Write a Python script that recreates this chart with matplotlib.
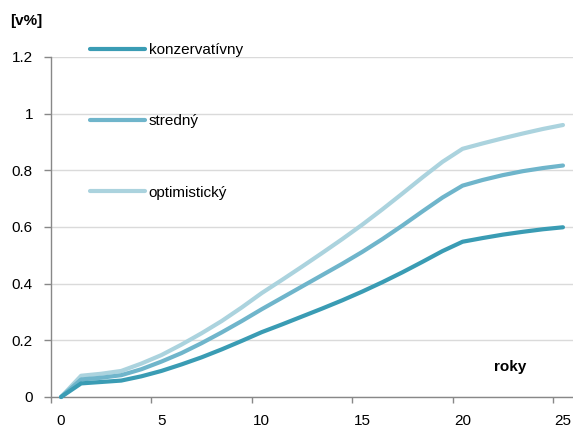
import matplotlib
matplotlib.use("Agg")
import matplotlib.pyplot as plt
import numpy as np

plt.rcParams['font.family'] = ['Liberation Sans', 'DejaVu Sans']

years = list(range(0, 26))
konzervativny = [0, 0.048, 0.053, 0.058, 0.073, 0.092, 0.115, 0.140, 0.168, 0.198,
                 0.229, 0.256, 0.284, 0.312, 0.341, 0.372, 0.405, 0.440, 0.477, 0.515,
                 0.548, 0.561, 0.573, 0.583, 0.592, 0.599]
stredny = [0, 0.062, 0.068, 0.077, 0.098, 0.125, 0.155, 0.190, 0.228, 0.268,
           0.310, 0.350, 0.390, 0.430, 0.470, 0.512, 0.557, 0.605, 0.655, 0.704,
           0.746, 0.766, 0.783, 0.797, 0.808, 0.817]
optimisticky = [0, 0.075, 0.082, 0.092, 0.118, 0.148, 0.185, 0.225, 0.268, 0.316,
                0.367, 0.413, 0.460, 0.508, 0.557, 0.608, 0.662, 0.718, 0.775, 0.830,
                0.876, 0.895, 0.913, 0.930, 0.946, 0.960]
labels = ['konzervatívny', 'stredný', 'optimistický']
colors = ['#3a9cb4', '#6fb5cb', '#abd3de']

fig = plt.figure(figsize=(5.73, 4.28), dpi=100)
ax = fig.add_axes([51/573, 1 - 397/428, 1 - 51/573, (397 - 57)/428])

series = [konzervativny, stredny, optimisticky]
handles = []
for vals, lab, col in zip(series[::-1], labels[::-1], colors[::-1]):
    h, = ax.plot(years, vals, color=col, lw=3.0, solid_capstyle='round',
                 solid_joinstyle='round', label=lab, clip_on=False, zorder=3)
    handles.append(h)
handles = handles[::-1]

ax.set_xlim(-0.5, 25.5)
ax.set_ylim(0, 1.2)
yt = [0, 0.2, 0.4, 0.6, 0.8, 1.0, 1.2]
ax.set_yticks(yt)
ax.set_yticklabels(['0', '0.2', '0.4', '0.6', '0.8', '1', '1.2'])
ax.set_xticks([0, 5, 10, 15, 20, 25])
ax.set_xticks([-0.5, 4.5, 9.5, 14.5, 19.5, 24.5], minor=True)
ax.tick_params(axis='x', which='major', length=0, pad=12, labelsize=11, colors='#000000')
ax.tick_params(axis='x', which='minor', length=4, width=1, color='#888888', direction='out')
ax.tick_params(axis='y', length=5, width=1, color='#888888', pad=8, labelsize=11)
ax.yaxis.grid(True, color='#dadada', lw=1)
ax.set_axisbelow(True)
for s in ['top', 'right']:
    ax.spines[s].set_visible(False)
for s in ['left', 'bottom']:
    ax.spines[s].set_color('#888888')
    ax.spines[s].set_linewidth(1)
    ax.spines[s].set_zorder(2)

fig.legend(handles, labels, loc='upper left', bbox_to_anchor=(90/573, 1 - 43/428),
           frameon=False, fontsize=11, handlelength=3.6, handletextpad=0.25,
           labelspacing=3.75, borderpad=0, borderaxespad=0)

fig.text(10/573, 1 - 21/428, '[v%]', fontsize=11, fontweight='bold', va='center', ha='left')
fig.text(510/573, 1 - 367/428, 'roky', fontsize=11, fontweight='bold', va='center', ha='center')

fig.savefig('out.png', dpi=100)
